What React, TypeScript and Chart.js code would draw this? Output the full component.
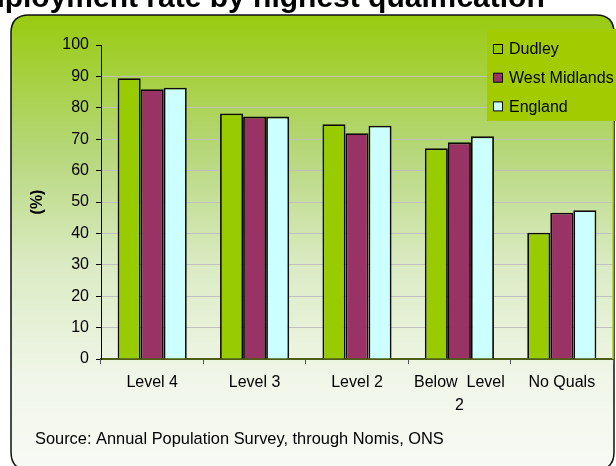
import React, { useEffect, useRef } from "react";
import { Chart, registerables } from "chart.js";

Chart.register(...registerables);

const chartTitle = "Employment rate by highest qualification";
const categories: (string | string[])[] = ["Level 4", "Level 3", "Level 2", ["Below  Level", "2"], "No Quals"];
const seriesNames = ["Dudley", "West Midlands", "England"];
const dudley = [89.4, 78.2, 74.8, 67.1, 40.2];
const westMidlands = [85.9, 77.2, 71.9, 69.0, 46.6];
const england = [86.4, 77.2, 74.3, 70.9, 47.4];
const seriesColors = ["#99cc00", "#993366", "#ccffff"];
const yMin = 0;
const yMax = 100;
const yStep = 10;
const yAxisTitle = "(%)";
const sourceText = "Source: Annual Population Survey, through Nomis, ONS";

const FONT = "Arial, 'Liberation Sans', sans-serif";

function roundRect(ctx: CanvasRenderingContext2D, x: number, y: number, w: number, h: number, r: number) {
  ctx.beginPath();
  ctx.moveTo(x + r, y);
  ctx.lineTo(x + w - r, y);
  ctx.quadraticCurveTo(x + w, y, x + w, y + r);
  ctx.lineTo(x + w, y + h - r);
  ctx.quadraticCurveTo(x + w, y + h, x + w - r, y + h);
  ctx.lineTo(x + r, y + h);
  ctx.quadraticCurveTo(x, y + h, x, y + h - r);
  ctx.lineTo(x, y + r);
  ctx.quadraticCurveTo(x, y, x + r, y);
  ctx.closePath();
}

const decorPlugin = {
  id: "decor",
  beforeDraw(chart: any) {
    const ctx: CanvasRenderingContext2D = chart.ctx;
    const W = chart.width;
    const H = chart.height;
    ctx.save();
    ctx.fillStyle = "#ffffff";
    ctx.fillRect(0, 0, W, H);
    // title (partially cut at top)
    ctx.fillStyle = "#000000";
    ctx.font = `bold 30px ${FONT}`;
    ctx.textAlign = "left";
    ctx.textBaseline = "alphabetic";
    ctx.fillText(chartTitle, -42, 7);
    // panel
    const px = 11, py = 15, pw = 603, ph = 455;
    const g = ctx.createLinearGradient(0, py, 0, py + ph);
    g.addColorStop(0, "#99cb10");
    g.addColorStop(0.3, "#b6d77a");
    g.addColorStop(0.55, "#dbebc4");
    g.addColorStop(0.8, "#f0f6e8");
    g.addColorStop(1, "#f8faf5");
    roundRect(ctx, px, py, pw, ph, 18);
    ctx.fillStyle = g;
    ctx.fill();
    ctx.lineWidth = 1.5;
    ctx.strokeStyle = "#111111";
    ctx.stroke();
    ctx.restore();
  },
  afterDraw(chart: any) {
    const ctx: CanvasRenderingContext2D = chart.ctx;
    const area = chart.chartArea;
    ctx.save();
    ctx.strokeStyle = "#a8d020";
    ctx.lineWidth = 1.5;
    ctx.beginPath();
    ctx.moveTo(area.right, area.top);
    ctx.lineTo(area.right, area.bottom);
    ctx.stroke();
    // legend
    const lx = 487, ly = 29, lw = 135, lh = 92;
    ctx.fillStyle = "#a2cc00";
    ctx.fillRect(lx, ly, lw, lh);
    ctx.font = `16px ${FONT}`;
    ctx.textBaseline = "middle";
    ctx.textAlign = "left";
    chart.data.datasets.forEach((ds: any, i: number) => {
      const cy = 49 + i * 28.7;
      ctx.fillStyle = ds.backgroundColor;
      ctx.fillRect(493.5, cy - 4.5, 9, 9);
      ctx.strokeStyle = "#000";
      ctx.lineWidth = 1;
      ctx.strokeRect(493.5, cy - 4.5, 9, 9);
      ctx.fillStyle = "#000";
      ctx.fillText(ds.label, 509, cy + 1);
    });
    // source
    ctx.font = `16.4px ${FONT}`;
    ctx.fillStyle = "#000";
    ctx.textBaseline = "middle";
    ctx.fillText(sourceText, 35, 439);
    ctx.restore();
  },
};

export default function App() {
  const ref = useRef<HTMLCanvasElement | null>(null);
  useEffect(() => {
    document.body.style.margin = "0";
    const canvas = ref.current;
    if (!canvas) return;
    const values = [dudley, westMidlands, england];
    const chart = new Chart(canvas, {
      type: "bar",
      data: {
        labels: categories as any,
        datasets: seriesNames.map((name, i) => ({
          label: name,
          data: values[i],
          backgroundColor: seriesColors[i],
          borderColor: "#0a0a0a",
          borderWidth: 1.8,
          categoryPercentage: 0.675,
          barPercentage: 1.0,
        })),
      },
      options: {
        animation: false,
        responsive: false,
        maintainAspectRatio: false,
        layout: { padding: { left: 0, right: 3, top: 45, bottom: 0 } },
        plugins: {
          legend: { display: false },
          title: { display: false },
          tooltip: { enabled: false },
        },
        scales: {
          x: {
            afterFit: (scale: any) => {
              scale.height = 107;
            },
            grid: {
              display: true,
              drawOnChartArea: false,
              drawTicks: true,
              tickLength: 5,
              tickColor: "#555555",
              offset: true,
            },
            border: { display: true, color: "#4d5d16", width: 2 },
            ticks: {
              color: "#000",
              font: { family: FONT, size: 16, lineHeight: 1.45 },
              padding: 7,
              maxRotation: 0,
              autoSkip: false,
            },
          },
          y: {
            min: yMin,
            max: yMax,
            afterFit: (scale: any) => {
              scale.width = 101;
            },
            ticks: {
              stepSize: yStep,
              color: "#000",
              font: { family: FONT, size: 16 },
              padding: 7,
            },
            grid: {
              color: (c: any) => (c.tick && c.tick.value === yMax ? "rgba(0,0,0,0)" : "#c0c0c0"),
              tickColor: "#000000",
              tickLength: 5,
              lineWidth: 1,
            },
            border: { display: true, color: "#000000", width: 1 },
            title: {
              display: true,
              text: yAxisTitle,
              color: "#000",
              font: { family: FONT, size: 16, weight: "bold" },
              padding: { top: 28, bottom: 0 },
            },
          },
        },
      },
      plugins: [decorPlugin],
    });
    return () => chart.destroy();
  }, []);
  return (
    <div style={{ width: 616, height: 466, position: "relative" }}>
      <canvas ref={ref} width={616} height={466} style={{ display: "block", width: 616, height: 466 }} />
    </div>
  );
}
